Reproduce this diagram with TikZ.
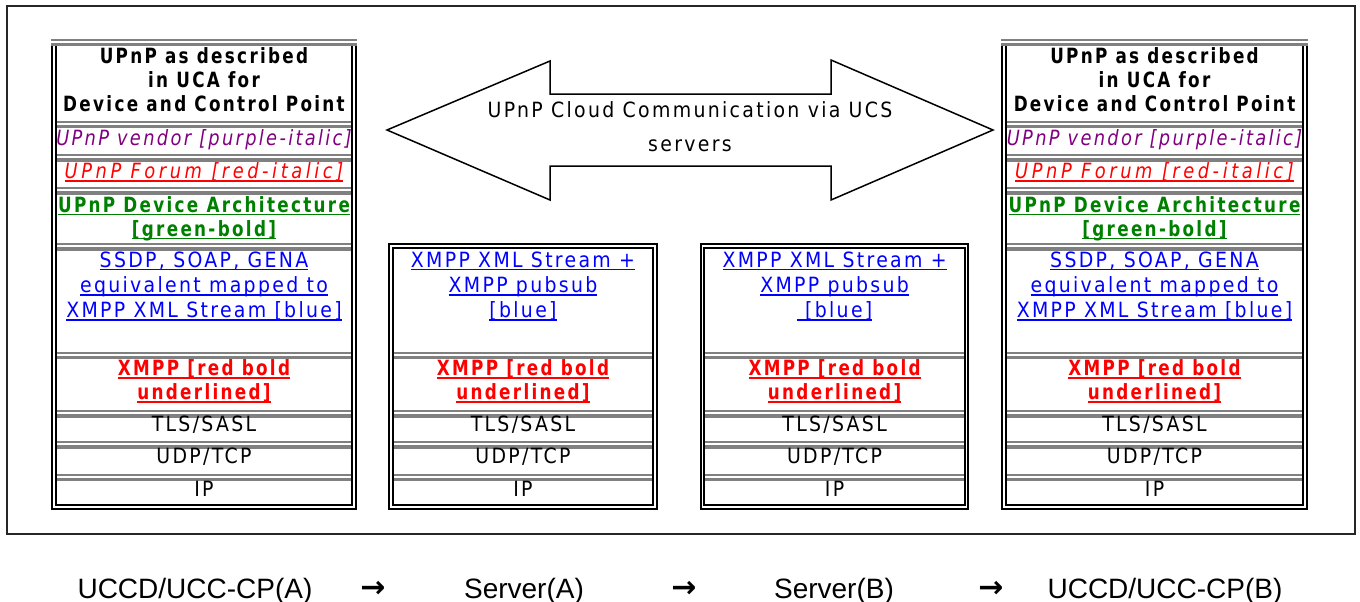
\documentclass[tikz,border=0pt]{standalone}
\usepackage{fontspec}
\usepackage{tikz}
\newfontfamily\layfont[FakeStretch=0.9,LetterSpace=11]{DejaVu Sans}
\newfontfamily\laybf[FakeStretch=0.8,LetterSpace=11]{DejaVu Sans Bold}
\newfontfamily\layit[FakeStretch=0.85,LetterSpace=11]{DejaVu Sans Oblique}
\newfontfamily\capfont{Liberation Sans}
\newfontfamily\symfont{DejaVu Sans}
\definecolor{vendorpurple}{HTML}{800080}
\definecolor{forumred}{HTML}{FF0000}
\definecolor{archgreen}{HTML}{008000}
\definecolor{linkblue}{HTML}{0000FF}
\definecolor{rulegray}{HTML}{808080}
% word-style underline at a fixed depth
\newcommand{\ulin}[1]{\leavevmode\setbox0\hbox{#1}\rlap{\rule[-3pt]{\wd0}{1.5pt}}\box0}

\begin{document}
\begin{tikzpicture}[x=1pt,y=-1pt,
  frame/.style={line width=2pt,black!85},
  rim/.style={line width=1.9pt,black},
  rule thin/.style={line width=2pt,rulegray},
  rule thick/.style={line width=3.4pt,rulegray},
  layer/.style={font={\layfont\fontsize{21}{24}\selectfont},align=center,inner sep=0pt,anchor=north},
  layer bold/.style={layer,font={\laybf\fontsize{21}{24}\selectfont}},
  layer italic/.style={layer,font={\layit\fontsize{21}{24}\selectfont}},
  layer link/.style={layer,font={\layfont\fontsize{21}{25.2}\selectfont},text=linkblue},
  route/.style={font={\capfont\fontsize{28}{32}\selectfont},inner sep=0pt,anchor=base},
  hop/.style={font={\symfont\bfseries\fontsize{30}{34}\selectfont},inner sep=0pt,anchor=base}]

  \useasboundingbox (0,0) rectangle (1360,602);
  \draw[frame] (7,6) rectangle (1355,533.7);

  % endpoint stacks
  \foreach \l/\r in {52/356,1002/1307}{
    \draw[rim] (\l,46) -- (\l,509.3) -- (\r,509.3) -- (\r,46);
    \draw[rim] (\l+3.8,46) -- (\l+3.8,505) -- (\r-3.8,505) -- (\r-3.8,46);
    \draw[rule thin] (\l-1,40) -- (\r+1,40);
    \draw[rule thick] (\l-1,44.5) -- (\r+1,44.5);
    \foreach \y in {121,154.3,187.3,243.3,351.7,410.3,441.3,473.7}{
      \draw[rule thin] (\l+4.7,\y+1) -- (\r-4.7,\y+1);
      \draw[rule thick] (\l+4.7,\y+5.7) -- (\r-4.7,\y+5.7);
    }
  }

  % server stacks
  \foreach \l/\r in {389.3/656.7,701/968.3}{
    \draw[rim] (\l,244.3) rectangle (\r,509.3);
    \draw[rim] (\l+3.4,247.7) rectangle (\r-3.4,505);
    \foreach \y in {351.7,410.3,441.3,473.7}{
      \draw[rule thin] (\l+4.3,\y+1) -- (\r-4.3,\y+1);
      \draw[rule thick] (\l+4.3,\y+5.7) -- (\r-4.3,\y+5.7);
    }
  }

  % endpoint upper layers
  \foreach \c/\s in {204/A,1154.5/B}{
    \node[layer bold] (uca\s) at (\c,47.7) {UPnP as described\\in UCA for\\Device and Control Point};
    \node[layer italic,text=vendorpurple] (vendor\s) at (\c,129.4) {UPnP vendor [purple-italic]};
    \node[layer italic,text=forumred,font={\layit\addfontfeatures{LetterSpace=17}\fontsize{21}{24}\selectfont}] (forum\s) at (\c,162.4) {\ulin{UPnP Forum [red-italic]}};
    \node[layer bold,text=archgreen] (arch\s) at (\c,196.1) {\ulin{UPnP Device Architecture}\\\ulin{[green-bold]}};
    \node[layer link] (map\s) at (\c,251.7) {\ulin{SSDP, SOAP, GENA}\\\ulin{equivalent mapped to}\\\ulin{XMPP XML Stream [blue]}};
  }

  % server upper layer
  \foreach \c/\s/\tag in {523/A/{[blue]},834.6/B/{~[blue]}}{
    \node[layer link] (pubsub\s) at (\c,251.7) {\ulin{XMPP XML Stream +}\\\ulin{XMPP pubsub}\\\ulin{\tag}};
  }

  % shared lower layers
  \foreach \c/\s in {204/1,523/2,834.6/3,1154.5/4}{
    \node[layer bold,text=forumred] (xmpp\s) at (\c,359.4) {\ulin{XMPP [red bold}\\\ulin{underlined]}};
    \node[layer] (tls\s) at (\c,416.2) {TLS/SASL};
    \node[layer] (udp\s) at (\c,447.5) {UDP/TCP};
    \node[layer] (ip\s) at (\c,480.7) {IP};
  }

  % double arrow between the endpoints
  \draw[line width=1.5pt] (387,130) -- (550,61) -- (550,94) -- (831,94) -- (831,60)
    -- (993,130) -- (831,200) -- (831,166) -- (550,166) -- (550,200) -- cycle;
  \node[layer,font={\layfont\fontsize{21}{34}\selectfont}] (cloud) at (690,101) {UPnP Cloud Communication via UCS\\servers};

  % message route
  \node[route] (capA) at (195,598) {UCCD/UCC-CP(A)};
  \node[hop] (hop1) at (373,597) {→};
  \node[route] (srvA) at (524,598) {Server(A)};
  \node[hop] (hop2) at (684,597) {→};
  \node[route] (srvB) at (834,598) {Server(B)};
  \node[hop] (hop3) at (991,597) {→};
  \node[route] (capB) at (1165,598) {UCCD/UCC-CP(B)};
\end{tikzpicture}
\end{document}
